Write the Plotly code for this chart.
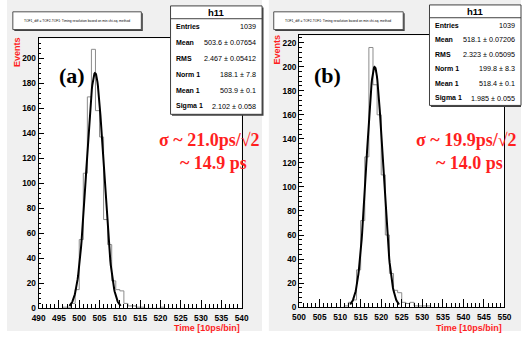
import numpy as np
import plotly.graph_objects as go

W, H = 528, 341

# ---------------- data (bin lower edges, 1 unit wide) ----------------
left_bins = [496, 497, 498, 499, 500, 501, 502, 503, 504, 505, 506, 507, 508,
             509, 510, 511, 512, 513, 514, 515, 516, 517, 518, 519, 520]
left_counts = [1, 1, 4, 15, 55, 108, 169, 207, 158, 137, 71, 51, 22,
               15, 14, 4, 2, 2, 1, 1, 0, 0, 0, 0, 1]
left_fit = dict(norm=188.1, mean=503.9, sigma=2.102)

right_bins = [511, 512, 513, 514, 515, 516, 517, 518, 519, 520, 521, 522, 523,
              524, 525, 526, 527, 528, 529, 530, 531]
right_counts = [1, 4, 6, 31, 72, 125, 216, 185, 160, 110, 60, 28, 14,
                12, 4, 3, 4, 1, 1, 1, 1]
right_fit = dict(norm=199.8, mean=518.4, sigma=1.985)

left_stats = [("Entries", "1039"), ("Mean", "503.6 \u00b1 0.07654"),
              ("RMS", "2.467 \u00b1 0.05412"), ("Norm 1", "188.1 \u00b1 7.8"),
              ("Mean 1", "503.9 \u00b1 0.1"), ("Sigma 1", "2.102 \u00b1 0.058")]
right_stats = [("Entries", "1039"), ("Mean", "518.1 \u00b1 0.07206"),
               ("RMS", "2.323 \u00b1 0.05095"), ("Norm 1", "199.8 \u00b1 8.3"),
               ("Mean 1", "518.4 \u00b1 0.1"), ("Sigma 1", "1.985 \u00b1 0.055")]

title_text = "TOF1_diff = TOF2-TOF1: Timing resolution based on min chi-sq. method"
x_title = "Time [10ps/bin]"
y_title = "Events"
labels = ["(a)", "(b)"]
sigma_lines = [["\u03c3 ~ 21.0ps/\u221a2", "~ 14.9 ps"],
               ["\u03c3 ~ 19.9ps/\u221a2", "~ 14.0 ps"]]

# ---------------- helpers ----------------
def PX(x):
    return x / W

def PY(y):
    return 1 - y / H

def step_xy(bins, counts):
    b = np.asarray(bins, float)
    c = np.asarray(counts, float)
    xs = np.concatenate([[b[0]], b, [b[-1] + 1.0]])
    ys = np.concatenate([[0], c, [0]])
    return xs, ys

fig = go.Figure()

panels = [
    dict(bins=left_bins, counts=left_counts, fit=left_fit, stats=left_stats,
         xr=[490, 540], xd=[32.5, 241], yd=[313, 39], ymax=215.7,
         bg=[0, 262], tbox=[6, 12, 138, 30], sbox=[168, 6, 262, 116],
         lab=(67, 77), sig=(208, 212, 142, 165), xa="x", ya="y"),
    dict(bins=right_bins, counts=right_counts, fit=right_fit, stats=right_stats,
         xr=[500, 550], xd=[300, 511], yd=[311.7, 36], ymax=226,
         bg=[269, 528], tbox=[274, 12, 407, 30], sbox=[434, 5, 528, 107],
         lab=(329, 77), sig=(472, 475, 142, 165), xa="x2", ya="y2"),
]

shapes = []
annotations = []
axis_font = dict(family="Liberation Sans, Arial", size=8.3, color="black", weight="bold")
red = "#ff1f1f"

for i, p in enumerate(panels):
    # gray canvas
    shapes.append(dict(type="rect", xref="paper", yref="paper", layer="below",
                       x0=PX(p["bg"][0]), x1=PX(p["bg"][1]), y0=PY(336), y1=PY(0),
                       fillcolor="#f0f0f0", line=dict(width=0)))
    # frame white background
    shapes.append(dict(type="rect", xref="paper", yref="paper", layer="below",
                       x0=PX(p["xd"][0]), x1=PX(p["xd"][1]),
                       y0=PY(p["yd"][0]), y1=PY(p["yd"][1]),
                       fillcolor="white", line=dict(width=0)))

    xs, ys = step_xy(p["bins"], p["counts"])
    fig.add_trace(go.Scatter(x=xs, y=ys, mode="lines", line_shape="hv",
                             line=dict(color="#8c8c8c", width=1),
                             xaxis=p["xa"], yaxis=p["ya"], showlegend=False,
                             hoverinfo="skip"))
    f = p["fit"]
    xf = np.linspace(f["mean"] - 3 * f["sigma"], f["mean"] + 3 * f["sigma"], 120)
    yf = f["norm"] * np.exp(-0.5 * ((xf - f["mean"]) / f["sigma"]) ** 2)
    fig.add_trace(go.Scatter(x=xf, y=yf, mode="lines",
                             line=dict(color="black", width=2),
                             xaxis=p["xa"], yaxis=p["ya"], showlegend=False,
                             hoverinfo="skip"))

    # title box with shadow
    tx0, ty0, tx1, ty1 = p["tbox"]
    shapes.append(dict(type="rect", xref="paper", yref="paper",
                       x0=PX(tx0 + 1.5), x1=PX(tx1 + 1.5), y0=PY(ty1 + 1.5), y1=PY(ty0 + 1.5),
                       fillcolor="#404040", line=dict(width=0)))
    shapes.append(dict(type="rect", xref="paper", yref="paper",
                       x0=PX(tx0), x1=PX(tx1), y0=PY(ty1), y1=PY(ty0),
                       fillcolor="white", line=dict(color="#505050", width=1)))
    annotations.append(dict(xref="paper", yref="paper", x=PX((tx0 + tx1) / 2),
                            y=PY((ty0 + ty1) / 2), text=title_text, showarrow=False,
                            font=dict(family="Liberation Sans, Arial", size=3.3,
                                      color="black"),
                            xanchor="center", yanchor="middle"))

    # stats box
    sx0, sy0, sx1, sy1 = p["sbox"]
    shapes.append(dict(type="rect", xref="paper", yref="paper",
                       x0=PX(sx0 + 1.5), x1=PX(min(sx1 + 1.5, W)), y0=PY(sy1 + 1.5), y1=PY(sy0 + 1.5),
                       fillcolor="#404040", line=dict(width=0)))
    shapes.append(dict(type="rect", xref="paper", yref="paper",
                       x0=PX(sx0), x1=PX(sx1), y0=PY(sy1), y1=PY(sy0),
                       fillcolor="white", line=dict(color="#404040", width=1)))
    shapes.append(dict(type="line", xref="paper", yref="paper",
                       x0=PX(sx0), x1=PX(sx1), y0=PY(sy0 + 13), y1=PY(sy0 + 13),
                       line=dict(color="#404040", width=1)))
    annotations.append(dict(xref="paper", yref="paper", x=PX((sx0 + sx1) / 2),
                            y=PY(sy0 + 6.5), text="h11", showarrow=False,
                            font=dict(family="Liberation Sans, Arial", size=9.5,
                                      color="black", weight="bold"),
                            xanchor="center", yanchor="middle"))
    row_h = (sy1 - sy0 - 13) / len(p["stats"])
    for k, (nm, val) in enumerate(p["stats"]):
        yy = sy0 + 13 + row_h * (k + 0.5)
        annotations.append(dict(xref="paper", yref="paper", x=PX(sx0 + 4), y=PY(yy),
                                text=nm, showarrow=False, xanchor="left", yanchor="middle",
                                font=dict(family="Liberation Sans, Arial", size=7,
                                          color="black", weight="bold")))
        annotations.append(dict(xref="paper", yref="paper", x=PX(sx1 - 4), y=PY(yy),
                                text=val, showarrow=False, xanchor="right", yanchor="middle",
                                font=dict(family="Liberation Sans, Arial", size=7.2,
                                          color="black")))

    # labels
    annotations.append(dict(xref="paper", yref="paper", x=PX(p["lab"][0]), y=PY(p["lab"][1]),
                            text=labels[i], showarrow=False, xanchor="center", yanchor="middle",
                            font=dict(family="Liberation Serif, Times New Roman", size=22,
                                      color="black", weight="bold")))
    for k, line in enumerate(sigma_lines[i]):
        annotations.append(dict(xref="paper", yref="paper", x=PX(p["sig"][k]),
                                y=PY(p["sig"][2 + k]), text=line, showarrow=False,
                                xanchor="center", yanchor="middle",
                                font=dict(family="Liberation Serif, Times New Roman", size=18,
                                          color=red, weight="bold")))
    # axis titles
    annotations.append(dict(xref="paper", yref="paper", x=PX(p["xd"][1]), y=PY(333),
                            text=x_title, showarrow=False, xanchor="right", yanchor="middle",
                            font=dict(family="Liberation Sans, Arial", size=9,
                                      color=red, weight="bold")))
    annotations.append(dict(xref="paper", yref="paper", x=PX(p["xd"][0] - 22.5),
                            y=PY(p["yd"][1] + 14),
                            text=y_title, showarrow=False, xanchor="center", yanchor="middle",
                            textangle=-90,
                            font=dict(family="Liberation Sans, Arial", size=9,
                                      color=red, weight="bold")))

    xaxis = dict(domain=[PX(p["xd"][0]), PX(p["xd"][1])], range=p["xr"],
                 anchor=p["ya"], showgrid=False, zeroline=False,
                 showline=True, linecolor="black", linewidth=1, mirror=True,
                 ticks="inside", ticklen=8, tickwidth=1, tickcolor="black",
                 tick0=0, dtick=5, tickfont=axis_font, ticklabelstandoff=2,
                 minor=dict(ticks="inside", ticklen=4, dtick=1, tickcolor="black",
                            showgrid=False))
    yaxis = dict(domain=[PY(p["yd"][0]), PY(p["yd"][1])], range=[0, p["ymax"]],
                 anchor=p["xa"], showgrid=False, zeroline=False,
                 showline=True, linecolor="black", linewidth=1, mirror=True,
                 ticks="inside", ticklen=5, tickwidth=1, tickcolor="black",
                 tick0=0, dtick=20, tickfont=axis_font,
                 minor=dict(ticks="inside", ticklen=2.5, dtick=4, tickcolor="black",
                            showgrid=False))
    key = "" if i == 0 else "2"
    fig.layout["xaxis" + key] = xaxis
    fig.layout["yaxis" + key] = yaxis

fig.update_layout(width=W, height=H, margin=dict(l=0, r=0, t=0, b=0),
                  paper_bgcolor="white", plot_bgcolor="rgba(0,0,0,0)",
                  shapes=shapes, annotations=annotations, showlegend=False)

fig.write_html("out.html")
